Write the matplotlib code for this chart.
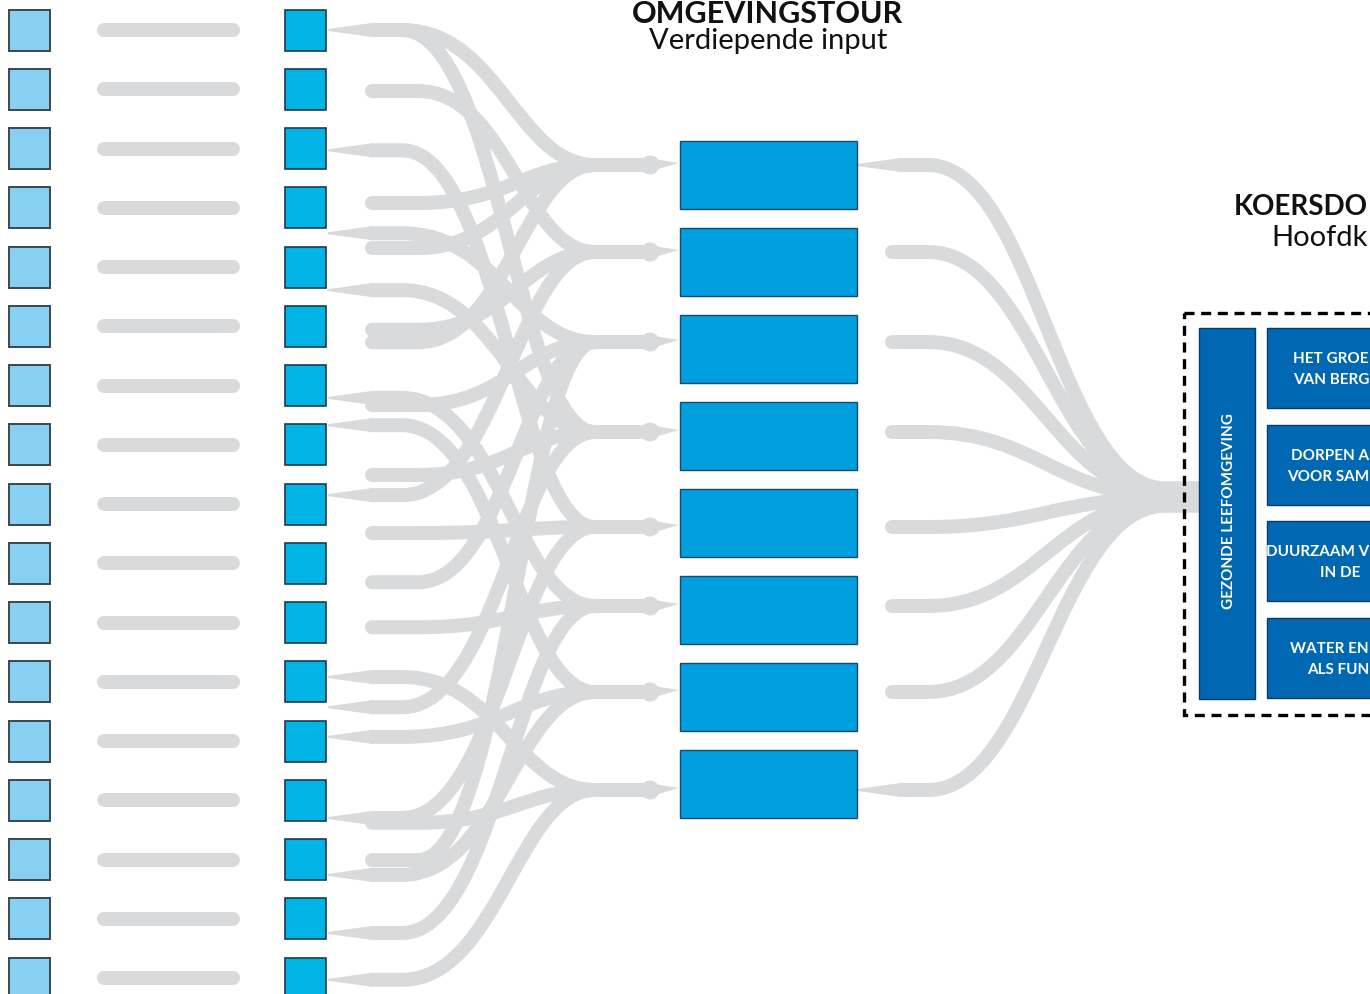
import matplotlib
matplotlib.use('Agg')
import matplotlib.pyplot as plt
from matplotlib.path import Path
from matplotlib.patches import PathPatch, Rectangle, Polygon, Circle

# ---------------- data ----------------
n_rows = 17                      # left column: inputs
n_mid = 8                        # middle column: themes
# flows from the input column (position in row units) to a middle box
flow_src = [0.00, 0.00, 1.03, 2.03, 2.92, 3.43, 3.68, 4.39, 5.06, 5.27, 6.21, 6.33, 6.67,
            7.51, 7.85, 8.49, 9.32, 10.08, 10.92, 11.43, 11.93, 13.30, 13.38, 14.01,
            14.26, 15.24, 16.03]
flow_style = ['T', 'N', 'R', 'T', 'R', 'T', 'R', 'T', 'R', 'R', 'T', 'R', 'T',
              'R', 'T', 'R', 'R', 'R', 'T', 'T', 'T', 'T', 'R', 'R',
              'T', 'T', 'T']
flow_dst = [0, 3, 1, 4, 0, 2, 0, 3, 1, 0, 5, 2, 6,
            3, 1, 4, 2, 5, 7, 3, 6, 4, 7, 2,
            6, 5, 7]
# middle boxes -> main theme; start style per box
mid_style = ['T', 'R', 'R', 'R', 'R', 'R', 'R', 'T']

title1 = "OMGEVINGSTOUR"
subtitle1 = "Verdiepende input"
title2 = "KOERSDO"          # visible part in the reference
subtitle2 = "Hoofdk"
main_theme = "GEZONDE LEEFOMGEVING"
sub_themes = [("HET GROE", "VAN BERG"),
              ("DORPEN A", "VOOR SAM"),
              ("DUURZAAM V", "IN DE"),
              ("WATER EN", "ALS FUN")]

# ---------------- layout ----------------
W, H = 1370, 994
fig = plt.figure(figsize=(13.7, 9.94), dpi=100)
ax = fig.add_axes([0, 0, 1, 1])
ax.set_xlim(0, W)
ax.set_ylim(H, 0)
ax.axis('off')

PT = 72 / 100.0
GRAY = '#d9dadb'
LW = 14 * PT
FONT = 'Lato'

row_y0, row_dy = 30.0, 59.25
mid_y0, mid_dy = 175.0, 87.0
arr_off = [-10, -10, -7, -4, 4, -4, -5, 6]


def row_y(r):
    return row_y0 + r * row_dy


def mid_y(j):
    return mid_y0 + j * mid_dy


# left squares, bars, cyan squares
for i in range(n_rows):
    y = row_y(i)
    ax.add_patch(Rectangle((9, y - 20.5), 41, 41, facecolor='#87d0f1',
                           edgecolor='#3a4750', lw=1.4, zorder=3))
    ax.plot([104, 233], [y, y], color=GRAY, lw=LW, solid_capstyle='round', zorder=1)
    ax.add_patch(Rectangle((285, y - 20.5), 41, 41, facecolor='#00b4e6',
                           edgecolor='#1d3a4f', lw=1.2, zorder=3))


def flow(x0, y0, xa, xm, y1, x1, cap, k1=0.5, k2=0.4):
    verts = [(x0, y0), (xa, y0),
             (xa + k1 * (xm - xa), y0), (xm - k2 * (xm - xa), y1), (xm, y1),
             (x1, y1)]
    codes = [Path.MOVETO, Path.LINETO, Path.CURVE4, Path.CURVE4, Path.CURVE4, Path.LINETO]
    ax.add_patch(PathPatch(Path(verts, codes), facecolor='none', edgecolor=GRAY,
                           lw=LW, capstyle=cap, joinstyle='round', zorder=1))


def wedge(x, y):
    ax.add_patch(Polygon([(x, y - 1), (x + 44, y - 7), (x + 44, y + 7), (x, y + 1)],
                         closed=True, facecolor=GRAY, edgecolor='none', zorder=1))


# left flows
for s, st, d in zip(flow_src, flow_style, flow_dst):
    sy = row_y(s)
    ty = mid_y(d) + arr_off[d]
    if st == 'R':
        flow(372, sy, 418, 595, ty, 648, 'round')
    else:
        if st == 'T':
            wedge(328, sy)
        flow(370, sy, 402, 595, ty, 648, 'butt')

# arrow heads into middle boxes
for j in range(n_mid):
    ty = mid_y(j) + arr_off[j]
    ax.add_patch(Circle((650, ty), 9.5, facecolor=GRAY, edgecolor='none', zorder=1))
    ax.add_patch(Polygon([(648, ty - 7), (679, ty - 2), (648, ty + 7)], closed=True,
                         facecolor=GRAY, edgecolor='none', zorder=1))

# middle boxes
for j in range(n_mid):
    y = mid_y(j)
    ax.add_patch(Rectangle((680, y - 34), 177, 68, facecolor='#009fe0',
                           edgecolor='#1b4868', lw=1.0, zorder=3))

# right flows into main theme
for j in range(n_mid):
    sy = mid_y(j) + arr_off[j]
    ey = 497 + (j - 3.5) * 2.5
    if mid_style[j] == 'T':
        wedge(857, sy)
        flow(899, sy, 928, 1165, ey, 1205, 'butt', 0.45, 0.45)
    else:
        flow(892, sy, 928, 1165, ey, 1205, 'round', 0.45, 0.45)

# dashed frame
ax.add_patch(Rectangle((1184, 313), 260, 402, facecolor='none', edgecolor='black',
                       lw=2.4, linestyle=(0, (3, 2)), zorder=2))
# main theme box
DB = '#0068b3'
ax.add_patch(Rectangle((1199, 328), 56, 371, facecolor=DB, edgecolor='#0b3b66',
                       lw=1.0, zorder=3))
ax.text(1229, 511, main_theme, rotation=90, ha='center', va='center', color='white',
        fontsize=11, fontweight='bold', family=FONT, zorder=4)

sub_top = [328, 425, 521, 618]
TFS = 11
for (l1, l2), top in zip(sub_themes, sub_top):
    ax.add_patch(Rectangle((1267, top), 200, 80, facecolor=DB, edgecolor='#0b3b66',
                           lw=1.0, zorder=3))
    ax.text(1369, top + 31, l1, ha='right', va='center', color='white', fontsize=TFS,
            fontweight='bold', family=FONT, zorder=4)
    if l2 == "IN DE":
        ax.text(1320, top + 52, l2, ha='left', va='center', color='white', fontsize=TFS,
                fontweight='bold', family=FONT, zorder=4)
    else:
        ax.text(1369, top + 52, l2, ha='right', va='center', color='white', fontsize=TFS,
                fontweight='bold', family=FONT, zorder=4)

# titles
ax.text(768, 23, title1, ha='center', va='baseline', fontsize=22, fontweight='bold',
        family=FONT, color='#111111')
ax.text(768, 41, subtitle1, ha='center', va='center', fontsize=21, family=FONT,
        color='#111111')
ax.text(1368, 207, title2, ha='right', va='center', fontsize=20, fontweight='bold',
        family=FONT, color='#111111')
ax.text(1368, 238, subtitle2, ha='right', va='center', fontsize=21, family=FONT,
        color='#111111')

fig.savefig('out.png', dpi=100)
